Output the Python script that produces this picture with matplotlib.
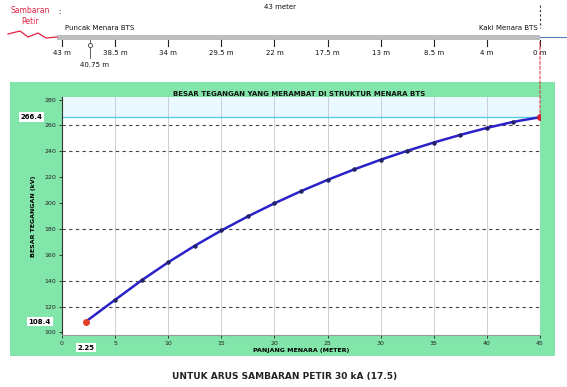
import numpy as np
import matplotlib
matplotlib.use("Agg")
import matplotlib.pyplot as plt
from matplotlib.patches import Rectangle, ConnectionPatch

# Distance from the tower top (m) and propagated voltage (kV)
jarak = [2.25, 5, 7.5, 10, 12.5, 15, 17.5, 20, 22.5, 25, 27.5, 30,
         32.5, 35, 37.5, 40, 42.5, 45]
tegangan = [108.4, 125.2, 140.3, 154.2, 167.0, 178.8, 189.7, 199.8, 209.2,
            217.9, 226.0, 233.5, 240.4, 246.8, 252.7, 258.1, 262.8, 266.4]

x_ticks = [0, 5, 10, 15, 20, 25, 30, 35, 40, 45]
y_ticks = [100, 120, 140, 160, 180, 200, 220, 240, 260, 280]
dashed_y = [120, 140, 180, 240, 260]

# Height labels along the tower strip
tinggi_labels = ["43 m", "38.5 m", "34 m", "29.5 m", "22 m", "17.5 m",
                 "13 m", "8.5 m", "4 m", "0 m"]
titik_label = "40.75 m"
tinggi_total = "43 meter"

W, H = 567, 387
fig = plt.figure(figsize=(W / 100, H / 100), dpi=100)
fig.patch.set_facecolor("white")


def fr(x0, y0, x1, y1):
    return [x0 / W, 1 - y1 / H, (x1 - x0) / W, (y1 - y0) / H]


GREEN = "#82e5aa"

# green panel behind the chart
panel = fig.add_axes(fr(10, 82, 555, 356))
panel.set_facecolor(GREEN)
panel.set_xticks([]); panel.set_yticks([])
for s in panel.spines.values():
    s.set_visible(False)
panel.text(0.53, 0.955, "BESAR TEGANGAN YANG MERAMBAT DI STRUKTUR MENARA BTS",
           transform=panel.transAxes, ha="center", va="center",
           fontsize=5, fontweight="bold", color="#111111")

# main chart
ax = fig.add_axes(fr(62, 97, 540, 335))
ax.set_facecolor("white")
ax.set_xlim(0, 45)
ax.set_ylim(98, 282)
ax.set_xticks(x_ticks)
ax.set_xticklabels([str(v) for v in x_ticks], fontsize=4.5)
ax.set_yticks(y_ticks)
ax.set_yticklabels([str(v) for v in y_ticks], fontsize=4.5)
ax.tick_params(length=2, width=0.6, pad=2, colors="#222222")
for s in ["top", "right"]:
    ax.spines[s].set_visible(False)
ax.spines["left"].set_color("#333333")
ax.spines["bottom"].set_color("#999999")

for xv in x_ticks[1:]:
    ax.axvline(xv, color="#c8c8c8", lw=0.6, zorder=1)
for yv in dashed_y:
    ax.axhline(yv, color="#444444", lw=0.8, ls=(0, (3, 3)), zorder=1)

# light band above the final value
ax.axhspan(tegangan[-1], 282, color="#eaf8ff", zorder=0)
ax.axhline(tegangan[-1], color="#55d0e8", lw=1.0, zorder=2)

ax.plot(jarak, tegangan, color="#2a22c8", lw=1.8, zorder=3)
ax.plot(jarak, tegangan, ls="none", marker="o", ms=2.2, color="#222266", zorder=4)
ax.plot(jarak[0], tegangan[0], "o", ms=4, color="#e0402a", zorder=5)
ax.plot(jarak[-1], tegangan[-1], "o", ms=4, color="#d02030", zorder=5)

ax.set_xlabel("PANJANG MENARA (METER)", fontsize=4.5, fontweight="bold",
              labelpad=2)
ax.set_ylabel("BESAR TEGANGAN (kV)", fontsize=4.5, fontweight="bold",
              labelpad=6)

box = dict(boxstyle="square,pad=0.25", fc="white", ec="none")
ax.annotate(f"{jarak[0]:g}", xy=(jarak[0], 98), xycoords="data",
            xytext=(0, -9), textcoords="offset points", ha="center",
            va="center", fontsize=5, fontweight="bold", bbox=box,
            annotation_clip=False)
ax.annotate(f"{tegangan[0]:g}", xy=(0, tegangan[0]), xycoords="data",
            xytext=(-16, 0), textcoords="offset points", ha="center",
            va="center", fontsize=5, fontweight="bold", bbox=box,
            annotation_clip=False, zorder=6)
ax.annotate(f"{tegangan[-1]:g}", xy=(0, tegangan[-1]), xycoords="data",
            xytext=(-22, 0), textcoords="offset points", ha="center",
            va="center", fontsize=5, fontweight="bold", bbox=box,
            annotation_clip=False, zorder=6)

# tower strip above the chart
st = fig.add_axes(fr(62, 0, 540, 75))
st.set_xlim(0, 9)
st.set_ylim(75, 0)
st.axis("off")
pos = np.arange(len(tinggi_labels))
st.add_patch(Rectangle((-0.1, 35), 9.1, 5, color="#bdbdbd", lw=0,
                       clip_on=False))
st.plot([9, 9.6], [37, 37], color="#5a78c8", lw=0.8, clip_on=False)
for p, lab in zip(pos, tinggi_labels):
    st.plot([p, p], [40, 46], color="#222222", lw=0.8, clip_on=False)
    st.text(p, 53, lab, ha="center", va="center", fontsize=5,
            color="#111111")
st.text(0.05, 31, "Puncak Menara BTS", ha="left", va="bottom", fontsize=5,
        color="#111111")
st.text(8.95, 31, "Kaki Menara BTS", ha="right", va="bottom", fontsize=5,
        color="#111111")
st.text(4.1, 7, tinggi_total, ha="center", va="center", fontsize=5,
        color="#111111")
# strike point marker on the tower
p_titik = 0.52
st.plot([p_titik, p_titik], [40, 58], color="#444444", lw=0.6,
        clip_on=False)
st.plot(p_titik, 45, "o", ms=3, mfc="white", mec="#444444", mew=0.6)
st.text(p_titik + 0.1, 65, titik_label, ha="center", va="center",
        fontsize=5, color="#111111")
st.plot([9, 9], [5, 28], color="#333333", lw=0.8, ls=(0, (2, 2)),
        clip_on=False)
st.text(-0.05, 12, ":", ha="center", va="center", fontsize=5)

# lightning strike label
fig.text(30 / W, 1 - 16 / H, "Sambaran\nPetir", ha="center", va="center",
         fontsize=5.5, color="#e02040", linespacing=1.3)
fig.add_artist(matplotlib.lines.Line2D(
    np.array([8, 20, 28, 38, 46, 57]) / W,
    1 - np.array([34, 31, 37, 33, 38, 37]) / H,
    color="#e02040", lw=0.9))

# red dashed guide from the tower foot down to the final value
con = ConnectionPatch(xyA=(9, 42), coordsA=st.transData,
                      xyB=(jarak[-1], tegangan[-1]), coordsB=ax.transData,
                      color="#e02030", lw=0.7, ls=(0, (3, 2)))
fig.add_artist(con)

fig.text(285 / W, 1 - 377 / H, "UNTUK ARUS SAMBARAN PETIR 30 kA (17.5)",
         ha="center", va="center", fontsize=6.5, fontweight="bold",
         color="#222222")

fig.savefig("out.png", dpi=100)
